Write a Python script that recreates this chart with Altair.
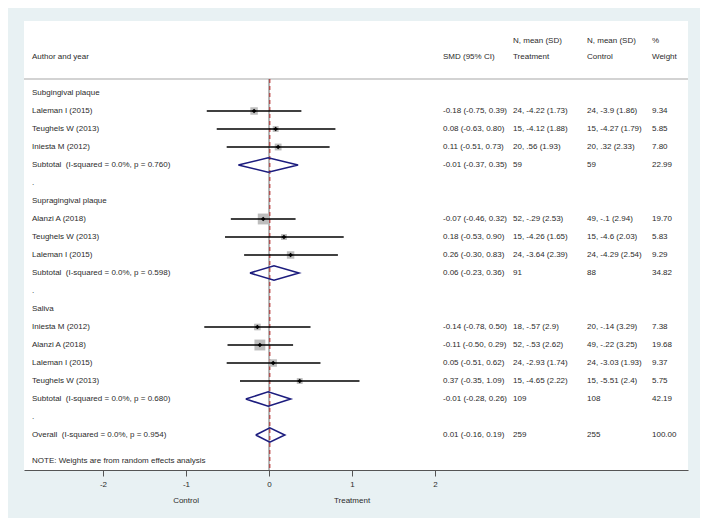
import altair as alt
import pandas as pd

# ---------------- data ----------------
NB = "\u00a0"
labels = [
    "Subgingival plaque",
    "Laleman I (2015)", "Teughels W (2013)", "Iniesta M (2012)",
    f"Subtotal{NB} (I-squared = 0.0%, p = 0.760)",
    ".",
    "Supragingival plaque",
    "Alanzi A (2018)", "Teughels W (2013)", "Laleman I (2015)",
    f"Subtotal{NB} (I-squared = 0.0%, p = 0.598)",
    ".",
    "Saliva",
    "Iniesta M (2012)", "Alanzi A (2018)", "Laleman I (2015)", "Teughels W (2013)",
    f"Subtotal{NB} (I-squared = 0.0%, p = 0.680)",
    ".",
    f"Overall{NB} (I-squared = 0.0%, p = 0.954)",
]
kind = ["head", "study", "study", "study", "sub", "blank",
        "head", "study", "study", "study", "sub", "blank",
        "head", "study", "study", "study", "study", "sub", "blank",
        "sub"]
est = [None, -0.18, 0.08, 0.11, -0.01, None,
       None, -0.07, 0.18, 0.26, 0.06, None,
       None, -0.14, -0.11, 0.05, 0.37, -0.01, None,
       0.01]
lo = [None, -0.75, -0.63, -0.51, -0.37, None,
      None, -0.46, -0.53, -0.30, -0.23, None,
      None, -0.78, -0.50, -0.51, -0.35, -0.28, None,
      -0.16]
hi = [None, 0.39, 0.80, 0.73, 0.35, None,
      None, 0.32, 0.90, 0.83, 0.36, None,
      None, 0.50, 0.29, 0.62, 1.09, 0.26, None,
      0.19]
smd_text = ["", "-0.18 (-0.75, 0.39)", "0.08 (-0.63, 0.80)", "0.11 (-0.51, 0.73)",
            "-0.01 (-0.37, 0.35)", "",
            "", "-0.07 (-0.46, 0.32)", "0.18 (-0.53, 0.90)", "0.26 (-0.30, 0.83)",
            "0.06 (-0.23, 0.36)", "",
            "", "-0.14 (-0.78, 0.50)", "-0.11 (-0.50, 0.29)", "0.05 (-0.51, 0.62)",
            "0.37 (-0.35, 1.09)", "-0.01 (-0.28, 0.26)", "",
            "0.01 (-0.16, 0.19)"]
treat_text = ["", "24, -4.22 (1.73)", "15, -4.12 (1.88)", "20, .56 (1.93)", "59", "",
              "", "52, -.29 (2.53)", "15, -4.26 (1.65)", "24, -3.64 (2.39)", "91", "",
              "", "18, -.57 (2.9)", "52, -.53 (2.62)", "24, -2.93 (1.74)", "15, -4.65 (2.22)",
              "109", "", "259"]
ctrl_text = ["", "24, -3.9 (1.86)", "15, -4.27 (1.79)", "20, .32 (2.33)", "59", "",
             "", "49, -.1 (2.94)", "15, -4.6 (2.03)", "24, -4.29 (2.54)", "88", "",
             "", "20, -.14 (3.29)", "49, -.22 (3.25)", "24, -3.03 (1.93)", "15, -5.51 (2.4)",
             "108", "", "255"]
weight = [None, 9.34, 5.85, 7.80, 22.99, None,
          None, 19.70, 5.83, 9.29, 34.82, None,
          None, 7.38, 19.68, 9.37, 5.75, 42.19, None,
          100.00]
weight_text = ["" if w is None else f"{w:.2f}" for w in weight]

header_top = ["N, mean (SD)", "N, mean (SD)", "%"]
header_bottom = ["Author and year", "SMD (95% CI)", "Treatment", "Control", "Weight"]
note_text = "NOTE: Weights are from random effects analysis"
tick_values = [-2, -1, 0, 1, 2]
side_labels = ["Control", "Treatment"]
side_pos = [-1, 1]
overall_est = 0.01

# ---------------- layout / style ----------------
W, H = 664, 449
X_DOMAIN = [-2.952, 5.048]
FONT = "Liberation Sans"
FS = 8
TXT = "#2b2b2b"
NAVY = "#1c1c7e"

df = pd.DataFrame({
    "row": list(range(len(labels))),
    "label": labels, "kind": kind, "est": est, "lo": lo, "hi": hi,
    "smd": smd_text, "treat": treat_text, "ctrl": ctrl_text,
    "wtxt": weight_text, "w": weight,
})
df["sq"] = df["w"] * 6.0

xscale = alt.Scale(domain=X_DOMAIN, nice=False, zero=False)
yscale = alt.Scale(domain=[-4, 20.944], nice=False, zero=False, reverse=True)
xaxis = alt.Axis(values=tick_values, title=None, grid=False,
                 domainColor="#555555", domainWidth=1.2,
                 tickColor="#555555", tickSize=6, tickWidth=1,
                 labelFont=FONT, labelFontSize=FS, labelColor=TXT,
                 labelPadding=4, labelExpr="datum.value + ''")

def yenc(field):
    return alt.Y(field, scale=yscale, axis=None)

def xenc(field):
    return alt.X(field, scale=xscale, axis=xaxis)

base = alt.Chart(df)

def col_text(field, px):
    return base.mark_text(align="left", baseline="middle", font=FONT,
                          fontSize=FS, color=TXT).encode(
        x=alt.value(px),
        y=yenc("row:Q"),
        text=alt.Text(f"{field}:N"),
    )

text_layers = [
    col_text("label", 8),
    col_text("smd", 419),
    col_text("treat", 489),
    col_text("ctrl", 563),
    col_text("wtxt", 628),
]

# column headers (two lines each)
hdr = pd.DataFrame({
    "t": header_bottom + header_top,
    "line": [2] * len(header_bottom) + [1] * len(header_top),
    "col": [0, 1, 2, 3, 4] + [2, 3, 4],
})
header_layers = []
for c, px in enumerate([8, 419, 489, 563, 628]):
    for ln, py in [(1, 20), (2, 36)]:
        sub = hdr[(hdr.col == c) & (hdr.line == ln)]
        if len(sub) == 0:
            continue
        header_layers.append(
            alt.Chart(sub).mark_text(
                align="left", baseline="middle", font=FONT, fontSize=FS, color=TXT
            ).encode(x=alt.value(px), y=alt.value(py), text="t:N")
        )

note = alt.Chart(pd.DataFrame({"t": [note_text]})).mark_text(
    align="left", baseline="middle", font=FONT, fontSize=FS, color=TXT
).encode(x=alt.value(8), y=alt.value(440), text="t:N")

header_rule = alt.Chart(pd.DataFrame({"a": [X_DOMAIN[0]], "b": [X_DOMAIN[1]]})).mark_rule(
    color="#c4c4c4", strokeWidth=1.5
).encode(x=xenc("a:Q"), x2="b:Q", y=alt.value(58))

zero_line = alt.Chart(pd.DataFrame({"z": [0]})).mark_rule(
    color="#6e6e6e", strokeWidth=1
).encode(x=xenc("z:Q"), y=alt.value(58), y2=alt.value(H))

overall_line = alt.Chart(pd.DataFrame({"z": [overall_est]})).mark_rule(
    color="#b02020", strokeWidth=1, strokeDash=[4, 3]
).encode(x=xenc("z:Q"), y=alt.value(58), y2=alt.value(H))

studies = base.transform_filter(alt.datum.kind == "study")

squares = studies.mark_square(color="#bdbdbd", opacity=1, filled=True).encode(
    x=xenc("est:Q"),
    y=yenc("row:Q"),
    size=alt.Size("sq:Q", scale=None, legend=None),
)
ci = studies.mark_rule(color="black", strokeWidth=1.3).encode(
    x=xenc("lo:Q"),
    x2="hi:Q",
    y=yenc("row:Q"),
)
pts = studies.mark_point(shape="diamond", filled=True, color="black",
                         size=22, opacity=1).encode(
    x=xenc("est:Q"),
    y=yenc("row:Q"),
)

# summary diamonds
HALF = 0.4
drows = []
for r, k, e, l, h in zip(range(len(labels)), kind, est, lo, hi):
    if k == "sub":
        pts_xy = [(l, r), (e, r - HALF), (h, r), (e, r + HALF), (l, r)]
        for o, (xx, yy) in enumerate(pts_xy):
            drows.append({"g": r, "o": o, "dx": xx, "dy": yy})
ddf = pd.DataFrame(drows)
diamonds = alt.Chart(ddf).mark_line(color=NAVY, strokeWidth=1.6).encode(
    x=xenc("dx:Q"),
    y=yenc("dy:Q"),
    detail="g:N",
    order="o:Q",
)

side = alt.Chart(pd.DataFrame({"t": side_labels, "p": side_pos})).mark_text(
    align="center", baseline="middle", font=FONT, fontSize=FS, color=TXT
).encode(x=xenc("p:Q"), y=alt.value(480), text="t:N")

chart = alt.layer(
    header_rule, zero_line, overall_line, squares, ci, pts, diamonds,
    *text_layers, *header_layers, note, side,
).properties(
    width=W, height=H,
    background="#e8f1f3",
    padding={"left": 16, "top": 13, "right": 12, "bottom": 48},
    autosize=alt.AutoSizeParams(type="none"),
).configure_view(fill="white", strokeWidth=0)

chart.save("out.html", embed_options={"renderer": "svg", "actions": False})
